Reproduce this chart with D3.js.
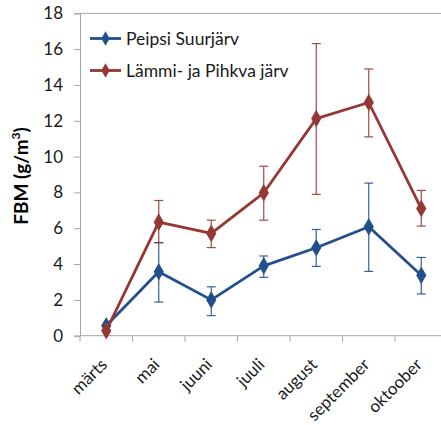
<!DOCTYPE html>
<html>
<head>
<meta charset="utf-8">
<script src="https://cdn.jsdelivr.net/npm/d3@7"></script>
<style>
  html, body { margin: 0; padding: 0; background: #fff; }
  svg { display: block; }
  text { font-family: Lato, "Open Sans", sans-serif; }
</style>
</head>
<body>
<svg id="chart" width="441" height="425"></svg>
<script>
// Months sampled
const months = ["märts", "mai", "juuni", "juuli", "august", "september", "oktoober"];

// Peipsi Suurjärv: mean FBM with lower / upper error limits
const peipsiMean = [0.55, 3.57, 2.0, 3.9, 4.91, 6.08, 3.37];
const peipsiLow  = [0.55, 1.88, 1.12, 3.26, 3.87, 3.59, 2.33];
const peipsiHigh = [0.55, 5.2, 2.73, 4.45, 5.93, 8.52, 4.37];

// Lämmi- ja Pihkva järv
const pihkvaMean = [0.28, 6.34, 5.71, 7.98, 12.12, 13.02, 7.1];
const pihkvaLow  = [0.28, 5.19, 4.92, 6.45, 7.89, 11.1, 6.12];
const pihkvaHigh = [0.28, 7.55, 6.45, 9.46, 16.31, 14.89, 8.11];

const yTicks = [0, 2, 4, 6, 8, 10, 12, 14, 16, 18];
const seriesNames = ["Peipsi Suurjärv", "Lämmi- ja Pihkva järv"];
const seriesColors = ["#23508c", "#953735"];

const series = [
  { name: seriesNames[0], color: seriesColors[0], mean: peipsiMean, low: peipsiLow, high: peipsiHigh },
  { name: seriesNames[1], color: seriesColors[1], mean: pihkvaMean, low: pihkvaLow, high: pihkvaHigh }
];

const svg = d3.select("#chart");
const plot = { left: 80, top: 13.3, right: 447.5, bottom: 335.7 };

const x = d3.scaleBand().domain(months).range([plot.left, plot.right]);
const y = d3.scaleLinear().domain([0, 18]).range([plot.bottom, plot.top]);
const cx = m => x(m) + x.bandwidth() / 2;

const axisColor = "#a6a6a6";

// Plot frame (top and right edges)
svg.append("path")
  .attr("d", `M${plot.left},${plot.top}H${plot.right}V${plot.bottom}`)
  .attr("fill", "none").attr("stroke", axisColor).attr("stroke-width", 1);

// Y axis
const yAxis = svg.append("g")
  .attr("transform", `translate(${plot.left},0)`)
  .call(d3.axisLeft(y).tickValues(yTicks).tickSize(6).tickPadding(11).tickFormat(d3.format("d")));
yAxis.select(".domain").attr("stroke", axisColor);
yAxis.selectAll(".tick line").attr("stroke", axisColor);
yAxis.selectAll(".tick text")
  .attr("font-size", 17).attr("fill", "#1a1a1a")
  .style("font-family", "Lato, 'Open Sans', sans-serif");

// X axis: ticks sit on category boundaries
const xAxis = svg.append("g")
  .attr("transform", `translate(0,${plot.bottom})`);
xAxis.append("line")
  .attr("x1", plot.left).attr("x2", plot.right)
  .attr("stroke", axisColor);
const boundaries = months.map(m => x(m)).concat([plot.right]);
xAxis.selectAll("line.tick").data(boundaries).join("line")
  .attr("class", "tick")
  .attr("x1", d => d).attr("x2", d => d)
  .attr("y1", 0).attr("y2", 6)
  .attr("stroke", axisColor);
xAxis.selectAll("text").data(months).join("text")
  .attr("transform", d => `translate(${cx(d) + 2},${30}) rotate(-45)`)
  .attr("text-anchor", "end")
  .attr("font-size", 17)
  .attr("fill", "#1a1a1a")
  .text(d => d);

// Y axis title
svg.append("text")
  .attr("transform", `translate(28,${176}) rotate(-90)`)
  .attr("text-anchor", "middle")
  .attr("font-size", 19)
  .attr("font-weight", "bold")
  .attr("fill", "#000")
  .call(t => {
    t.append("tspan").text("FBM (g/m");
    t.append("tspan").attr("font-size", 12).attr("dy", -8).text("3");
    t.append("tspan").attr("dy", 8).text(")");
  });

const diamond = d3.symbol().type(d3.symbolDiamond);

// Error bars, lines and markers for each series
series.forEach(s => {
  const g = svg.append("g");
  const idx = d3.range(months.length);

  // error bars
  idx.filter(i => s.high[i] > s.low[i]).forEach(i => {
    const px = cx(months[i]);
    const eb = g.append("g").attr("stroke", s.color).attr("stroke-width", 1.2).attr("opacity", 0.9);
    eb.append("line").attr("x1", px).attr("x2", px).attr("y1", y(s.low[i])).attr("y2", y(s.high[i]));
    eb.append("line").attr("x1", px - 4.5).attr("x2", px + 4.5).attr("y1", y(s.low[i])).attr("y2", y(s.low[i]));
    eb.append("line").attr("x1", px - 4.5).attr("x2", px + 4.5).attr("y1", y(s.high[i])).attr("y2", y(s.high[i]));
  });

  const line = d3.line().x((d, i) => cx(months[i])).y(d => y(d));
  g.append("path")
    .datum(s.mean)
    .attr("d", line)
    .attr("fill", "none")
    .attr("stroke", s.color)
    .attr("stroke-width", 2.8)
    .attr("stroke-linejoin", "round");

  g.selectAll("path.marker").data(s.mean).join("path")
    .attr("class", "marker")
    .attr("d", diamond.size(90)())
    .attr("transform", (d, i) => `translate(${cx(months[i])},${y(d)})`)
    .attr("fill", s.color);
});

// Legend
const legend = svg.append("g");
series.forEach((s, i) => {
  const ly = 38.5 + i * 32;
  legend.append("line")
    .attr("x1", 90).attr("x2", 121).attr("y1", ly).attr("y2", ly)
    .attr("stroke", s.color).attr("stroke-width", 2.8);
  legend.append("path")
    .attr("d", diamond.size(60)())
    .attr("transform", `translate(105.5,${ly})`)
    .attr("fill", s.color);
  legend.append("text")
    .attr("x", 126).attr("y", ly).attr("dy", "0.35em")
    .attr("font-size", 17.5).attr("fill", "#1a1a1a")
    .text(s.name);
});
</script>
</body>
</html>
